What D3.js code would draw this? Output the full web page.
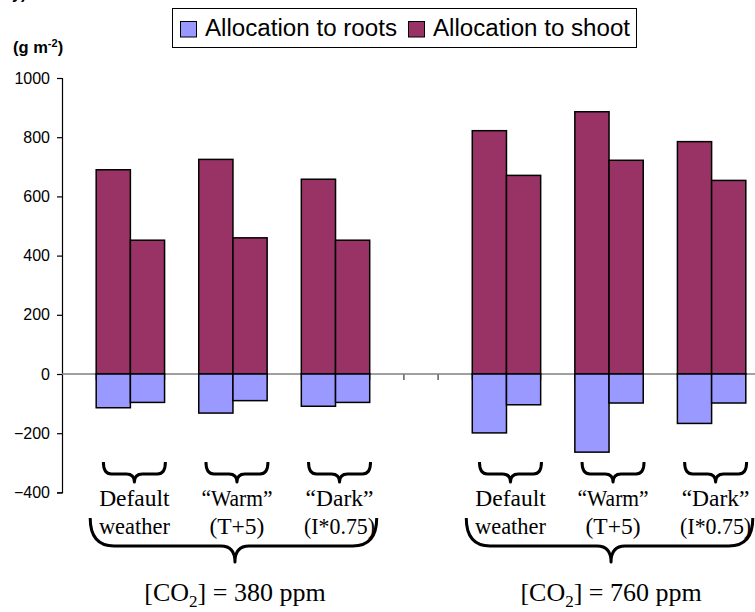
<!DOCTYPE html>
<html>
<head>
<meta charset="utf-8">
<script src="https://cdn.jsdelivr.net/npm/d3@7"></script>
<style>
  html, body { margin: 0; padding: 0; background: #fff; }
  svg { display: block; }
</style>
</head>
<body>
<svg id="chart" width="755" height="612"></svg>
<script>
// ---------------- DATA ----------------
const co2Levels = ["380 ppm", "760 ppm"];
const scenarioLine1 = ["Default", "\u201CWarm\u201D", "\u201CDark\u201D"];
const scenarioLine2 = ["weather", "(T+5)", "(I*0.75)"];
const seriesNames = ["Allocation to roots", "Allocation to shoot"];

// two bars per scenario
const shoot380 = [[690, 452], [725, 460], [658, 452]];
const roots380 = [[-114, -96], [-132, -90], [-109, -96]];
const shoot760 = [[822, 671], [886, 722], [785, 654]];
const roots760 = [[-199, -104], [-264, -98], [-167, -98]];

const yTicks = [-400, -200, 0, 200, 400, 600, 800, 1000];
const yTitle = "(g m";
const yTitleSup = "-2";

// ---------------- BUILD ----------------
const shootByLevel = [shoot380, shoot760];
const rootsByLevel = [roots380, roots760];

const keys = [];
const bars = [];
co2Levels.forEach((lvl, li) => {
  if (li > 0) { keys.push("sp" + li + "a"); keys.push("sp" + li + "b"); }
  scenarioLine1.forEach((sc, si) => {
    keys.push("gap" + li + "_" + si);
    [0, 1].forEach(bi => {
      const k = li + "_" + si + "_" + bi;
      keys.push(k);
      bars.push({ key: k, level: li, scen: si, bar: bi,
        shoot: shootByLevel[li][si][bi], roots: rootsByLevel[li][si][bi] });
    });
  });
});

const colors = { roots: "#9999FF", shoot: "#993366" };
const sans = "'Liberation Sans', Arial, Helvetica, sans-serif";
const serif = "'Liberation Serif', 'Times New Roman', Times, serif";

const svg = d3.select("#chart");
const axisX = 62;
const slotW = 34.19;
const x = d3.scaleBand().domain(keys).range([axisX, axisX + keys.length * slotW]).padding(0);
const y = d3.scaleLinear().domain([-400, 1000]).range([492.4, 78]);

// partial clipped title at very top
svg.append("text").attr("x", 12).attr("y", -1)
  .attr("font-family", sans).attr("font-weight", "bold").attr("font-size", 16)
  .text("y)");

// y axis title
const yt = svg.append("text").attr("x", 13).attr("y", 53)
  .attr("font-family", sans).attr("font-weight", "bold").attr("font-size", 16.5);
yt.append("tspan").text(yTitle);
yt.append("tspan").attr("font-size", 11).attr("dy", -6).text(yTitleSup);
yt.append("tspan").attr("dy", 6).text(")");

// y axis
const yAxis = d3.axisLeft(y).tickValues(yTicks).tickSize(5).tickPadding(7).tickFormat(d3.format("d"));
const gy = svg.append("g").attr("transform", `translate(${axisX},0)`).call(yAxis);
gy.select(".domain").attr("stroke", "#000").attr("stroke-width", 1.2);
gy.selectAll(".tick line").attr("stroke", "#000").attr("stroke-width", 1.2);
gy.selectAll(".tick text").attr("font-family", sans).attr("font-size", 16).attr("fill", "#000");

// x ticks at slot boundaries + zero line
const boundaries = keys.map(k => x(k)).slice(1);
svg.append("g").selectAll("line").data(boundaries).join("line")
  .attr("x1", d => d).attr("x2", d => d)
  .attr("y1", y(0)).attr("y2", y(0) + 6)
  .attr("stroke", "#444").attr("stroke-width", 1.3);
svg.append("line").attr("x1", axisX).attr("x2", 755)
  .attr("y1", y(0)).attr("y2", y(0))
  .attr("stroke", "#808080").attr("stroke-width", 1.5);

// bars
const gb = svg.append("g");
gb.selectAll("rect.shoot").data(bars).join("rect").attr("class", "shoot")
  .attr("x", d => x(d.key)).attr("width", x.bandwidth())
  .attr("y", d => y(d.shoot)).attr("height", d => y(0) - y(d.shoot))
  .attr("fill", colors.shoot).attr("stroke", "#000").attr("stroke-width", 1.5);
gb.selectAll("rect.roots").data(bars).join("rect").attr("class", "roots")
  .attr("x", d => x(d.key)).attr("width", x.bandwidth())
  .attr("y", y(0)).attr("height", d => y(d.roots) - y(0))
  .attr("fill", colors.roots).attr("stroke", "#000").attr("stroke-width", 1.5);

// brace path
function brace(x1, x2, cx, yTop, yMid, yTip, rEnd, rTip) {
  return `M${x1},${yTop} Q${x1},${yMid} ${x1 + rEnd},${yMid} L${cx - rTip},${yMid} Q${cx},${yMid} ${cx},${yTip}` +
         ` Q${cx},${yMid} ${cx + rTip},${yMid} L${x2 - rEnd},${yMid} Q${x2},${yMid} ${x2},${yTop}`;
}

// small braces + scenario labels
const groups = [];
co2Levels.forEach((lvl, li) => scenarioLine1.forEach((sc, si) => {
  const b0 = x(li + "_" + si + "_0"), b1 = x(li + "_" + si + "_1") + x.bandwidth();
  groups.push({ li, si, cx: (b0 + b1) / 2 + 4 });
}));
svg.append("g").selectAll("path").data(groups).join("path")
  .attr("d", d => brace(d.cx - 31, d.cx + 31, d.cx, 462, 474, 482, 8, 8))
  .attr("fill", "none").attr("stroke", "#000").attr("stroke-width", 3).attr("stroke-linejoin", "round");
const lab = svg.append("g").attr("font-family", serif).attr("font-size", 23.5).attr("text-anchor", "middle");
lab.selectAll("text.l1").data(groups).join("text").attr("class", "l1")
  .attr("x", d => d.cx).attr("y", 506).text(d => scenarioLine1[d.si]);
lab.selectAll("text.l2").data(groups).join("text").attr("class", "l2")
  .attr("x", d => d.cx).attr("y", 534).text(d => scenarioLine2[d.si]);
// mimic the condensed serif of the original for the widest labels
lab.selectAll("text").each(function () {
  const w = this.getComputedTextLength();
  if (w > 71) d3.select(this).attr("textLength", 71).attr("lengthAdjust", "spacingAndGlyphs");
});

// big braces + CO2 labels
const levels = co2Levels.map((lvl, li) => {
  const b0 = x(li + "_0_0"), b1 = x(li + "_2_1") + x.bandwidth();
  return { li, lvl, x1: b0 - 6, x2: b1 + 7, cx: (b0 + b1) / 2 + 2 };
});
svg.append("g").selectAll("path").data(levels).join("path")
  .attr("d", d => brace(d.x1, d.x2, d.cx, 518, 546, 562, 24, 14))
  .attr("fill", "none").attr("stroke", "#000").attr("stroke-width", 3).attr("stroke-linejoin", "round");
const big = svg.append("g").attr("font-family", serif).attr("font-size", 26).attr("text-anchor", "middle");
levels.forEach(d => {
  const t = big.append("text").attr("x", d.cx).attr("y", 601);
  t.append("tspan").text("[CO");
  t.append("tspan").attr("font-size", 17).attr("dy", 6).text("2");
  t.append("tspan").attr("dy", -6).text("] = " + d.lvl);
});

// legend
const lg = svg.append("g");
lg.append("rect").attr("x", 172.5).attr("y", 8.5).attr("width", 464).attr("height", 39)
  .attr("fill", "#fff").attr("stroke", "#000").attr("stroke-width", 1);
const legendItems = [
  { name: seriesNames[0], color: colors.roots, sx: 180.5, tx: 205, tl: 192 },
  { name: seriesNames[1], color: colors.shoot, sx: 408.5, tx: 433, tl: 197 }
];
legendItems.forEach(it => {
  lg.append("rect").attr("x", it.sx).attr("y", 21.5).attr("width", 16).attr("height", 15.5)
    .attr("fill", it.color).attr("stroke", "#000").attr("stroke-width", 1);
  lg.append("text").attr("x", it.tx).attr("y", 36).attr("font-family", sans).attr("font-size", 23)
    .attr("textLength", it.tl).attr("lengthAdjust", "spacingAndGlyphs")
    .text(it.name);
});
</script>
</body>
</html>
